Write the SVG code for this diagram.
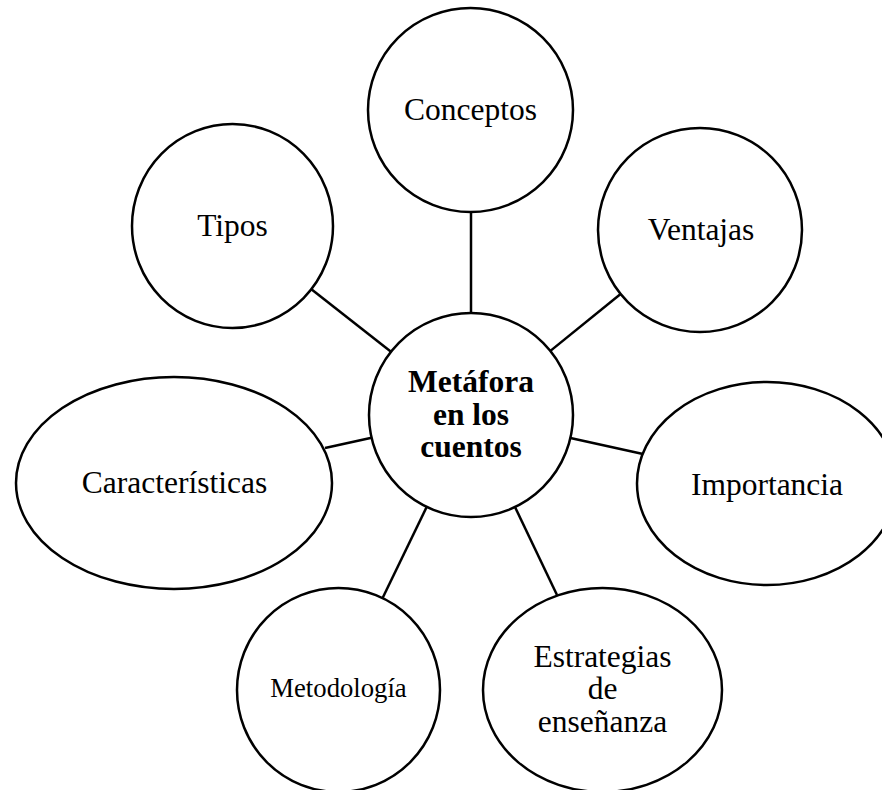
<svg xmlns="http://www.w3.org/2000/svg" width="882" height="790" viewBox="0 0 882 790">
<style>
.node{fill:#ffffff;stroke:#000000;stroke-width:2.5}
.edge{stroke:#000000;stroke-width:2.5;fill:none}
.lbl{font-family:"Liberation Serif","Times New Roman",serif;font-size:31.5px;fill:#000000;text-anchor:middle}
.ctr{font-weight:bold}
.small{font-size:26.7px}
</style>
<rect width="882" height="790" fill="#ffffff"/>
<g id="connectors">
<line class="edge" x1="471" y1="212" x2="471" y2="313"/>
<line class="edge" x1="391" y1="351.7" x2="311.7" y2="289.4"/>
<line class="edge" x1="550.4" y1="350.9" x2="620.6" y2="294"/>
<line class="edge" x1="371.6" y1="437.8" x2="325" y2="448"/>
<line class="edge" x1="570.4" y1="438" x2="643" y2="454"/>
<line class="edge" x1="426.7" y1="506.9" x2="382.6" y2="598"/>
<line class="edge" x1="515" y1="507" x2="557" y2="595"/>
</g>
<g id="center">
<circle class="node" cx="471" cy="415" r="102"/>
<text class="lbl ctr" x="471" y="392">Metáfora</text>
<text class="lbl ctr" x="471" y="425">en los</text>
<text class="lbl ctr" x="471" y="457">cuentos</text>
</g>
<g id="conceptos">
<ellipse class="node" cx="470.5" cy="110" rx="102.5" ry="102"/>
<text class="lbl" x="470.5" y="120">Conceptos</text>
</g>
<g id="tipos">
<ellipse class="node" cx="232.5" cy="226" rx="100.5" ry="102"/>
<text class="lbl" x="232.5" y="236">Tipos</text>
</g>
<g id="ventajas">
<ellipse class="node" cx="700" cy="230" rx="102" ry="102"/>
<text class="lbl" x="701" y="240">Ventajas</text>
</g>
<g id="caracteristicas">
<ellipse class="node" cx="174" cy="483" rx="158" ry="106"/>
<text class="lbl" x="174.5" y="493">Características</text>
</g>
<g id="importancia">
<ellipse class="node" cx="767" cy="483.5" rx="130" ry="101.5"/>
<text class="lbl" x="767" y="495">Importancia</text>
</g>
<g id="metodologia">
<ellipse class="node" cx="338.5" cy="690" rx="101.5" ry="102"/>
<text class="lbl small" x="338.5" y="697">Metodología</text>
</g>
<g id="estrategias">
<ellipse class="node" cx="602.5" cy="690" rx="119.5" ry="102"/>
<text class="lbl" x="602.5" y="667">Estrategias</text>
<text class="lbl" x="602.5" y="699">de</text>
<text class="lbl" x="602.5" y="732">enseñanza</text>
</g>
</svg>
